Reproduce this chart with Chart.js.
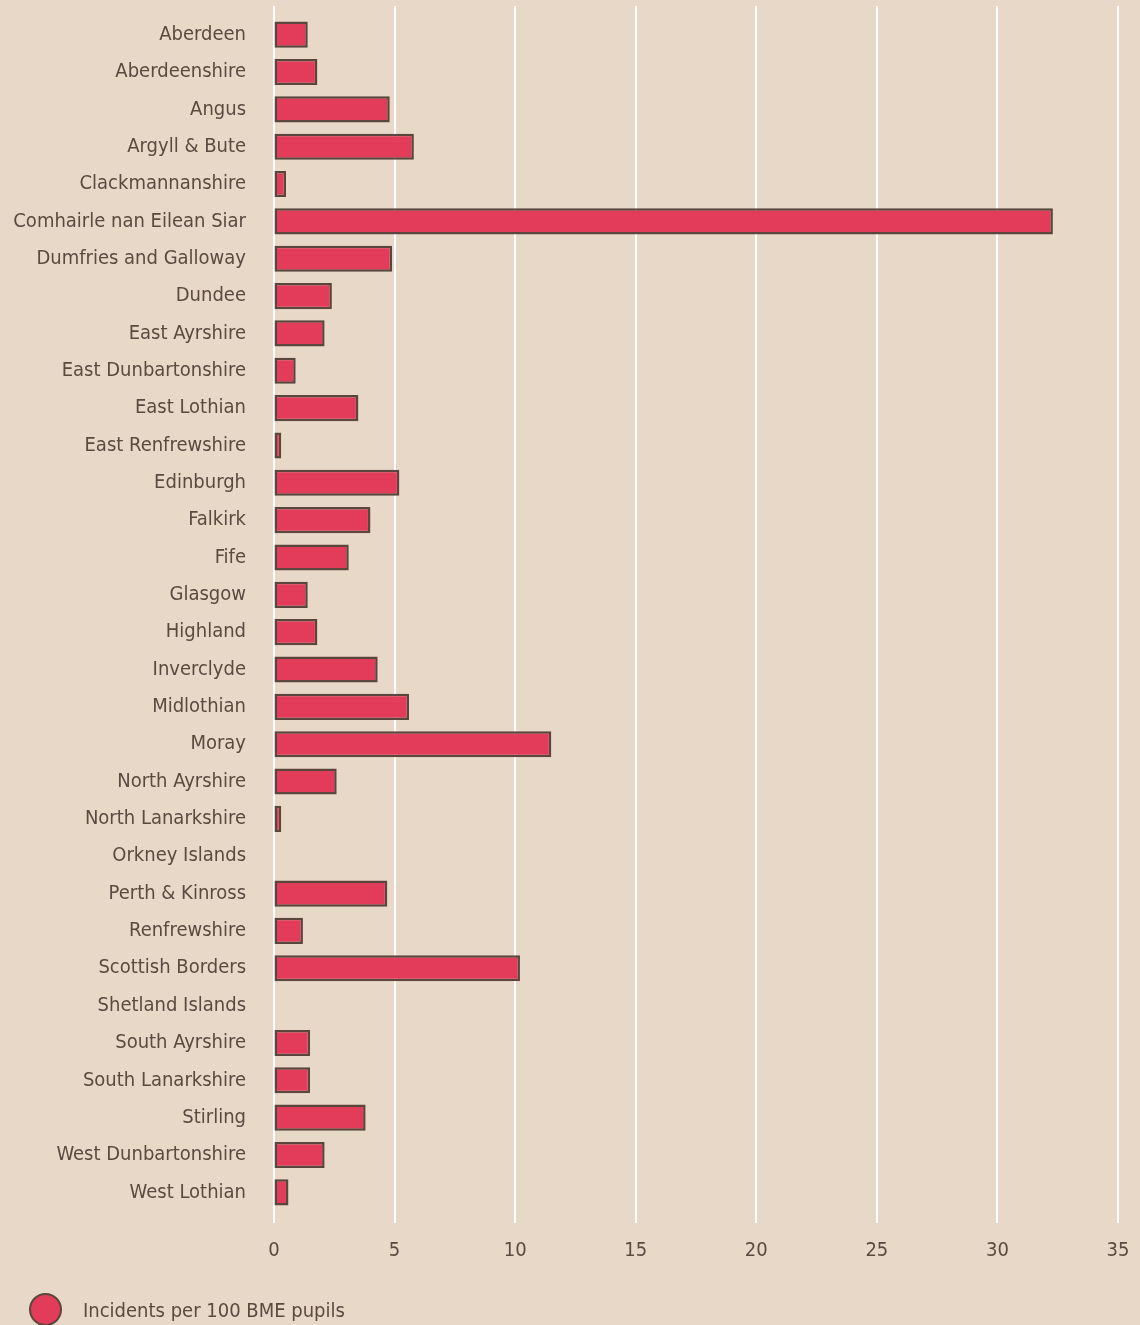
<!DOCTYPE html>
<html>
<head>
<meta charset="utf-8">
<script src="https://cdn.jsdelivr.net/npm/chart.js@4"></script>
<style>
    html, body { margin: 0; padding: 0; background: #e8d8c8; }
    #wrap { position: relative; width: 1140px; height: 1325px; }
    #legend {
        position: absolute; left: 29px; top: 1293px;
        display: flex; align-items: center;
        font-family: "DejaVu Sans Condensed", sans-serif;
        font-size: 20px; color: #5a4a40;
    }
    #legend .dot {
        width: 29px; height: 29px; border-radius: 50%;
        background: #e33c5b; border: 2px solid #5b463e;
        margin-right: 21px;
    }
</style>
</head>
<body>
<div id="wrap">
    <canvas id="chart" width="1140" height="1325"></canvas>
    <div id="legend"><span class="dot"></span><span>Incidents per 100 BME pupils</span></div>
</div>
<script>
    "use strict";

    var categories = [
        "Aberdeen", "Aberdeenshire", "Angus", "Argyll & Bute", "Clackmannanshire",
        "Comhairle nan Eilean Siar", "Dumfries and Galloway", "Dundee", "East Ayrshire",
        "East Dunbartonshire", "East Lothian", "East Renfrewshire", "Edinburgh", "Falkirk",
        "Fife", "Glasgow", "Highland", "Inverclyde", "Midlothian", "Moray", "North Ayrshire",
        "North Lanarkshire", "Orkney Islands", "Perth & Kinross", "Renfrewshire",
        "Scottish Borders", "Shetland Islands", "South Ayrshire", "South Lanarkshire",
        "Stirling", "West Dunbartonshire", "West Lothian"
    ];

    var incidents = [
        1.4, 1.8, 4.8, 5.8, 0.5,
        32.3, 4.9, 2.4, 2.1,
        0.9, 3.5, 0.3, 5.2, 4.0,
        3.1, 1.4, 1.8, 4.3, 5.6, 11.5, 2.6,
        0.3, 0, 4.7, 1.2,
        10.2, 0, 1.5, 1.5,
        3.8, 2.1, 0.6
    ];

    var xTicks = [0, 5, 10, 15, 20, 25, 30, 35];

    var FONT = "'DejaVu Sans Condensed', sans-serif";
    var TEXT = "#5a4a40";

    // white vertical grid lines, a bit longer than the chart area
    var gridPlugin = {
        id: "longGrid",
        beforeDatasetsDraw: function(chart) {
            var ctx = chart.ctx;
            var area = chart.chartArea;
            var x = chart.scales.x;
            ctx.save();
            ctx.strokeStyle = "#ffffff";
            ctx.lineWidth = 2;
            xTicks.forEach(function(v) {
                var px = Math.round(x.getPixelForValue(v));
                ctx.beginPath();
                ctx.moveTo(px, area.top - 10);
                ctx.lineTo(px, area.bottom + 12);
                ctx.stroke();
            });
            ctx.restore();
        }
    };

    new Chart(document.getElementById("chart"), {
        type: "bar",
        data: {
            labels: categories,
            datasets: [{
                label: "Incidents per 100 BME pupils",
                data: incidents,
                backgroundColor: "#e33c5b",
                borderColor: "#5b463e",
                borderWidth: 2.5,
                borderSkipped: false,
                categoryPercentage: 1,
                barPercentage: 0.7
            }]
        },
        plugins: [gridPlugin],
        options: {
            indexAxis: "y",
            responsive: false,
            animation: false,
            layout: { padding: { top: 16, right: 22, bottom: 46, left: 0 } },
            plugins: {
                legend: { display: false },
                tooltip: { enabled: false }
            },
            scales: {
                x: {
                    min: 0,
                    max: 35,
                    afterBuildTicks: function(scale) {
                        scale.ticks = xTicks.map(function(v) { return { value: v }; });
                    },
                    afterFit: function(scale) {
                        scale.paddingLeft = 0;
                        scale.paddingRight = 0;
                    },
                    grid: { color: "transparent", drawTicks: true, tickLength: 12 },
                    border: { display: false },
                    ticks: { color: TEXT, font: { family: FONT, size: 20 }, padding: 16, maxRotation: 0 }
                },
                y: {
                    afterFit: function(scale) {
                        scale.width = 274;
                        scale.paddingTop = 0;
                        scale.paddingBottom = 0;
                    },
                    grid: { display: false, drawTicks: false },
                    border: { display: false },
                    ticks: { color: TEXT, font: { family: FONT, size: 20 }, padding: 28, autoSkip: false }
                }
            }
        }
    });
</script>
</body>
</html>
